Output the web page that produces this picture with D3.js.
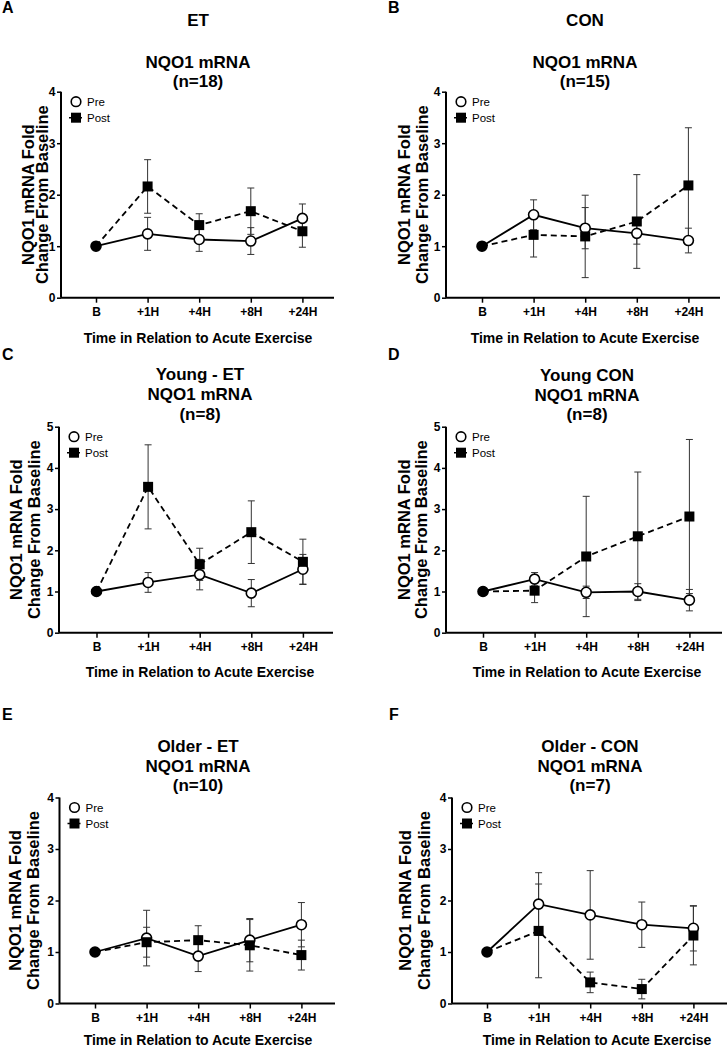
<!DOCTYPE html>
<html><head><meta charset="utf-8">
<script src="https://cdn.jsdelivr.net/npm/d3@7"></script>
<style>
body{margin:0;background:#fff;}
svg{display:block;font-family:"Liberation Sans",Arial,Helvetica,sans-serif;}
</style></head>
<body><svg id="c" width="728" height="1050"></svg>
<script>
// ---------- DATA ----------
const categories = ["B", "+1H", "+4H", "+8H", "+24H"];
const seriesNames = ["Pre", "Post"];
const panelLetters = ["A", "B", "C", "D", "E", "F"];
const headers = ["ET", "CON"];
const panelTitles = [
  ["NQO1 mRNA", "(n=18)"],
  ["NQO1 mRNA", "(n=15)"],
  ["Young - ET", "NQO1 mRNA", "(n=8)"],
  ["Young CON", "NQO1 mRNA", "(n=8)"],
  ["Older - ET", "NQO1 mRNA", "(n=10)"],
  ["Older - CON", "NQO1 mRNA", "(n=7)"]
];
const xAxisTitle = "Time in Relation to Acute Exercise";
const yAxisTitle = ["NQO1 mRNA Fold", "Change From Baseline"];
const yTicksTo4 = [0, 1, 2, 3, 4];
const yTicksTo5 = [0, 1, 2, 3, 4, 5];

const preA = [1, 1.24, 1.13, 1.10, 1.54];
const preAErr = [0, 0.32, 0.23, 0.26, 0.28];
const postA = [1, 2.16, 1.41, 1.68, 1.29];
const postAErr = [0, 0.52, 0.22, 0.45, 0.31];

const preB = [1, 1.61, 1.35, 1.25, 1.11];
const preBErr = [0, 0.29, 0.40, 0.21, 0.24];
const postB = [1, 1.22, 1.19, 1.48, 2.18];
const postBErr = [0, 0.43, 0.80, 0.91, 1.12];

const preC = [1, 1.22, 1.41, 0.96, 1.54];
const preCErr = [0, 0.24, 0.37, 0.33, 0.36];
const postC = [1, 3.54, 1.66, 2.44, 1.72];
const postCErr = [0, 1.02, 0.39, 0.76, 0.55];

const preD = [1, 1.30, 0.98, 1.00, 0.79];
const preDErr = [0, 0.16, 0.15, 0.19, 0.26];
const postD = [1, 1.02, 1.85, 2.34, 2.82];
const postDErr = [0, 0.29, 1.46, 1.56, 1.87];

const preE = [1, 1.27, 0.92, 1.23, 1.53];
const preEErr = [0, 0.54, 0.30, 0.42, 0.43];
const postE = [1, 1.19, 1.23, 1.13, 0.94];
const postEErr = [0, 0.29, 0.28, 0.50, 0.29];

const preF = [1, 1.93, 1.72, 1.53, 1.46];
const preFErr = [0, 0.61, 0.86, 0.44, 0.44];
const postF = [1, 1.41, 0.41, 0.28, 1.32];
const postFErr = [0, 0.91, 0.20, 0.19, 0.57];

const panelData = [
  {pre: preA, preErr: preAErr, post: postA, postErr: postAErr, yTicks: yTicksTo4},
  {pre: preB, preErr: preBErr, post: postB, postErr: postBErr, yTicks: yTicksTo4},
  {pre: preC, preErr: preCErr, post: postC, postErr: postCErr, yTicks: yTicksTo5},
  {pre: preD, preErr: preDErr, post: postD, postErr: postDErr, yTicks: yTicksTo5},
  {pre: preE, preErr: preEErr, post: postE, postErr: postEErr, yTicks: yTicksTo4},
  {pre: preF, preErr: preFErr, post: postF, postErr: postFErr, yTicks: yTicksTo4}
];

// ---------- LAYOUT ----------
const STEP = 51.6;
const layout = [
  {ax: 61, x0: 96, right: 334, top: 91.7, bottom: 297.7, letter: [2, 12.7], headerY: 26, tx: 198, titleY: [68, 87], xtY: 342.7, xtX: 198, ytX: [28, 42.5]},
  {ax: 446, x0: 482, right: 720, top: 91.7, bottom: 297.7, letter: [388, 12.7], headerY: 26, tx: 585, titleY: [68, 87], xtY: 342.7, xtX: 585, ytX: [404, 422]},
  {ax: 59, x0: 96.5, right: 333, top: 426.7, bottom: 632.7, letter: [2, 360], tx: 200, titleY: [380, 400, 419.5], xtY: 676.7, xtX: 200, ytX: [16.5, 34.5]},
  {ax: 446, x0: 483, right: 722, top: 426.7, bottom: 632.7, letter: [388, 360], tx: 587, titleY: [380.5, 400.5, 420], xtY: 676.7, xtX: 587, ytX: [404, 421.5]},
  {ax: 59.5, x0: 95, right: 335, top: 797.5, bottom: 1003.5, letter: [2, 720], tx: 198, titleY: [752.3, 772.3, 791], xtY: 1045, xtX: 198, ytX: [15.5, 33]},
  {ax: 452, x0: 487, right: 727, top: 797.5, bottom: 1003.5, letter: [389, 720], tx: 590, titleY: [752.3, 772.3, 791], xtY: 1045, xtX: 597, ytX: [405.5, 424]}
];

const svg = d3.select("#c");
svg.append("rect").attr("width", 728).attr("height", 1050).attr("fill", "#fff");

layout.forEach((L, pi) => {
  const D = panelData[pi];
  const g = svg.append("g");
  const yMax = D.yTicks[D.yTicks.length - 1];
  const x = d3.scalePoint().domain(categories).range([L.x0, L.x0 + STEP * (categories.length - 1)]);
  const y = d3.scaleLinear().domain([0, yMax]).range([L.bottom, L.top]);

  // panel letter
  g.append("text").attr("x", L.letter[0]).attr("y", L.letter[1])
    .attr("font-size", 16).attr("font-weight", "bold").text(panelLetters[pi]);
  // header
  if (pi < 2) {
    g.append("text").attr("x", L.tx).attr("y", L.headerY).attr("text-anchor", "middle")
      .attr("font-size", 17).attr("font-weight", "bold").text(headers[pi]);
  }
  // titles
  panelTitles[pi].forEach((t, i) => {
    g.append("text").attr("x", L.tx).attr("y", L.titleY[i]).attr("text-anchor", "middle")
      .attr("font-size", 17).attr("font-weight", "bold").text(t);
  });

  // axes
  const yAxis = d3.axisLeft(y).tickValues(D.yTicks).tickFormat(d3.format("d")).tickSize(4).tickSizeOuter(0).tickPadding(1.5);
  const ya = g.append("g").attr("transform", `translate(${L.ax},0)`).call(yAxis);
  const xAxis = d3.axisBottom(x).tickSize(5).tickSizeOuter(0).tickPadding(5);
  const xa = g.append("g").attr("transform", `translate(0,${L.bottom})`).call(xAxis);
  // extend x domain line to axis origin and right end
  xa.select(".domain").attr("d", `M${L.ax},0H${L.right}`);
  ya.select(".domain").attr("d", `M0,${L.top}V${L.bottom}`);
  [ya, xa].forEach(a => {
    a.select(".domain").attr("stroke", "#000").attr("stroke-width", 2);
    a.selectAll(".tick line").attr("stroke", "#000").attr("stroke-width", 1.5);
    a.selectAll(".tick text").attr("fill", "#000").attr("font-size", 12).attr("font-weight", "bold")
      .attr("font-family", '"Liberation Sans",Arial,sans-serif');
  });

  // x title
  g.append("text").attr("x", L.xtX).attr("y", L.xtY).attr("text-anchor", "middle")
    .attr("font-size", 14).attr("font-weight", "bold").text(xAxisTitle);
  // y title
  const cy = (L.top + L.bottom) / 2;
  yAxisTitle.forEach((t, i) => {
    g.append("text").attr("transform", `translate(${L.ytX[i]},${cy}) rotate(-90)`)
      .attr("text-anchor", "middle").attr("dy", "0.36em")
      .attr("font-size", 16.5).attr("font-weight", "bold").text(t);
  });

  const series = [
    {vals: D.pre, errs: D.preErr, dash: null},
    {vals: D.post, errs: D.postErr, dash: "6,4"}
  ];
  // error bars
  series.forEach(s => {
    const eg = g.append("g");
    s.vals.forEach((v, i) => {
      const e = s.errs[i];
      if (!e) return;
      const cx = x(categories[i]);
      eg.append("line").attr("x1", cx).attr("x2", cx).attr("y1", y(v - e)).attr("y2", y(v + e))
        .attr("stroke", "#333").attr("stroke-width", 1);
      [v - e, v + e].forEach(w => {
        eg.append("line").attr("x1", cx - 3.5).attr("x2", cx + 3.5).attr("y1", y(w)).attr("y2", y(w))
          .attr("stroke", "#333").attr("stroke-width", 1);
      });
    });
  });
  // lines
  const line = d3.line().x((d, i) => x(categories[i])).y(d => y(d));
  series.forEach(s => {
    g.append("path").datum(s.vals).attr("d", line).attr("fill", "none")
      .attr("stroke", "#000").attr("stroke-width", 1.8)
      .attr("stroke-dasharray", s.dash);
  });
  // Pre markers (circles)
  g.append("g").selectAll("circle").data(D.pre).join("circle")
    .attr("cx", (d, i) => x(categories[i])).attr("cy", d => y(d)).attr("r", 5)
    .attr("fill", (d, i) => i === 0 ? "#000" : "#fff").attr("stroke", "#000").attr("stroke-width", 1.6);
  // Post markers (squares)
  g.append("g").selectAll("rect").data(D.post).join("rect")
    .attr("x", (d, i) => x(categories[i]) - 5).attr("y", d => y(d) - 5)
    .attr("width", 10).attr("height", 10)
    .attr("rx", (d, i) => i === 0 ? 5 : 0)
    .attr("fill", "#000");

  // legend
  const lx = L.ax + 15, ly = L.top + 10;
  g.append("circle").attr("cx", lx).attr("cy", ly).attr("r", 4.8)
    .attr("fill", "#fff").attr("stroke", "#000").attr("stroke-width", 1.6);
  g.append("rect").attr("x", lx - 5).attr("y", ly + 16 - 5).attr("width", 10).attr("height", 10).attr("fill", "#000");
  g.append("line").attr("x1", lx - 7).attr("x2", lx + 7).attr("y1", ly + 16).attr("y2", ly + 16)
    .attr("stroke", "#000").attr("stroke-width", 1.5).attr("stroke-dasharray", "3,2");
  seriesNames.forEach((n, i) => {
    g.append("text").attr("x", lx + 11).attr("y", ly + 16 * i + 4.2)
      .attr("font-size", 11.5).text(n);
  });
});
</script></body></html>
